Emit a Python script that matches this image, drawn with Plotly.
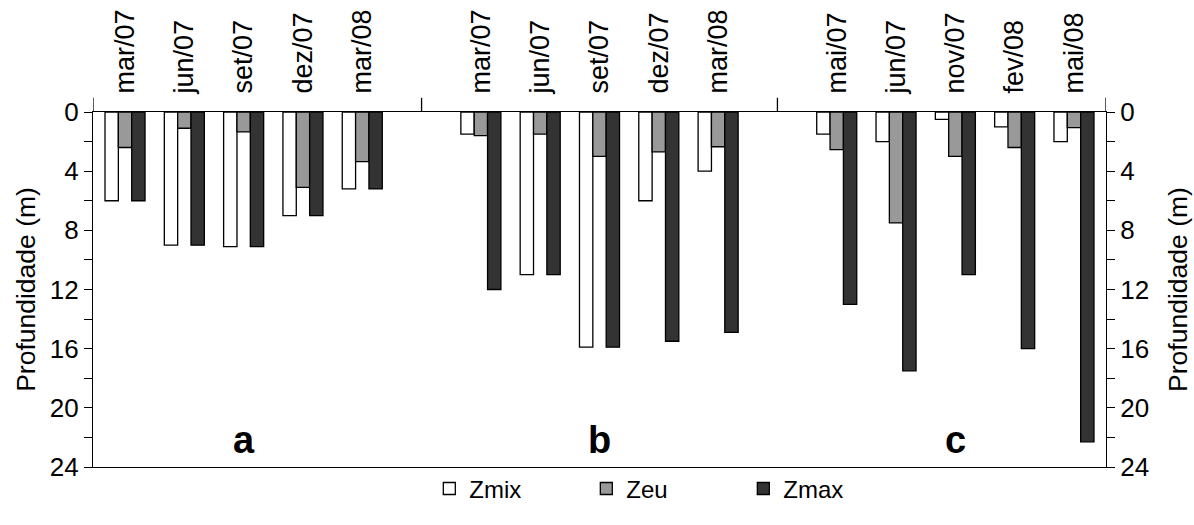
import plotly.graph_objects as go

# ---- data ----
panel_labels = ["a", "b", "c"]
sampling_labels = [
    "mar/07", "jun/07", "set/07", "dez/07", "mar/08",
    "mar/07", "jun/07", "set/07", "dez/07", "mar/08",
    "mai/07", "jun/07", "nov/07", "fev/08", "mai/08",
]
panel_of_sample = [0, 0, 0, 0, 0, 1, 1, 1, 1, 1, 2, 2, 2, 2, 2]
index_in_panel = [0, 1, 2, 3, 4, 0, 1, 2, 3, 4, 0, 1, 2, 3, 4]

zmix = [6.0, 9.0, 9.1, 7.0, 5.2, 1.5, 11.0, 15.9, 6.0, 4.0, 1.5, 2.0, 0.5, 1.0, 2.0]
zeu = [2.4, 1.1, 1.35, 5.1, 3.35, 1.6, 1.5, 3.0, 2.7, 2.35, 2.55, 7.5, 3.0, 2.4, 1.05]
zmax = [6.0, 9.0, 9.1, 7.0, 5.2, 12.0, 11.0, 15.9, 15.5, 14.9, 13.0, 17.5, 11.0, 16.0, 22.3]

y_ticks = [0, 4, 8, 12, 16, 20, 24]

# ---- layout helpers ----
PANEL_STEP = 6
xpos = [p * PANEL_STEP + i for p, i in zip(panel_of_sample, index_in_panel)]
separators = [PANEL_STEP * k - 1 for k in (1, 2)]
x_range = [-0.54, 2 * PANEL_STEP + 4 + 0.54]
panel_centers = [p * PANEL_STEP + 2 for p in range(3)]

FONT = "Arial, 'Liberation Sans', Helvetica, sans-serif"
LINE = dict(color="black", width=1.3)

fig = go.Figure()
series = [
    ("Zmix", zmix, "#ffffff"),
    ("Zeu", zeu, "#999999"),
    ("Zmax", zmax, "#333333"),
]
for name, vals, col in series:
    fig.add_trace(go.Bar(
        x=xpos, y=vals, name=name,
        marker=dict(color=col, line=LINE),
    ))

# empty helper trace so that the right-hand depth axis is drawn
fig.add_trace(go.Scatter(x=[None], y=[None], yaxis="y2", showlegend=False,
                         hoverinfo="skip", mode="markers"))

annotations = []
for lab, cx in zip(panel_labels, panel_centers):
    annotations.append(dict(
        x=cx, y=22.2, xref="x", yref="y", text=f"<b>{lab}</b>",
        showarrow=False, font=dict(size=38, color="black", family=FONT),
    ))

# short upward ticks at panel separators and at both ends of the top line
edge_ticks = [x_range[0]] + separators + [x_range[1]]
shapes = []
for xv in edge_ticks:
    shapes.append(dict(type="line", xref="x", yref="paper", x0=xv, x1=xv,
                       y0=1, y1=1.04, line=dict(color="black", width=1.3)))

def depth_axis(standoff):
    return dict(
        range=[24, 0], tickvals=y_ticks, ticks="outside", ticklen=8, tickwidth=1.3,
        tickcolor="black", showline=True, linecolor="black", linewidth=1.3,
        showgrid=False, zeroline=False, automargin=False,
        tickfont=dict(size=26, color="black", family=FONT),
        minor=dict(dtick=2, tick0=0, ticks="outside", ticklen=8, tickwidth=1.3,
                   tickcolor="black", showgrid=False),
        title=dict(text="Profundidade (m)", font=dict(size=26.5, color="black", family=FONT),
                   standoff=standoff),
    )

fig.update_layout(
    width=1194, height=525,
    margin=dict(l=93, r=88, t=112, b=58),
    paper_bgcolor="white", plot_bgcolor="white",
    font=dict(family=FONT, color="black"),
    barmode="group", bargap=0.325, bargroupgap=0,
    showlegend=True,
    legend=dict(orientation="h", x=0.332, xanchor="left", y=-0.125, yanchor="bottom",
                bgcolor="rgba(0,0,0,0)",
                font=dict(size=24, family=FONT, color="black"),
                entrywidth=112, entrywidthmode="pixels", traceorder="normal"),
    xaxis=dict(
        range=x_range, side="top", tickvals=xpos, ticktext=sampling_labels,
        tickangle=-90, ticks="", ticklabelstandoff=12, automargin=False,
        tickfont=dict(size=27, color="black", family=FONT),
        showline=True, linecolor="black", linewidth=1.3, mirror=True,
        showgrid=False, zeroline=False,
    ),
    yaxis=depth_axis(6),
    yaxis2=dict(depth_axis(20), overlaying="y", side="right", anchor="x"),
    annotations=annotations,
    shapes=shapes,
)

fig.write_html("out.html")
